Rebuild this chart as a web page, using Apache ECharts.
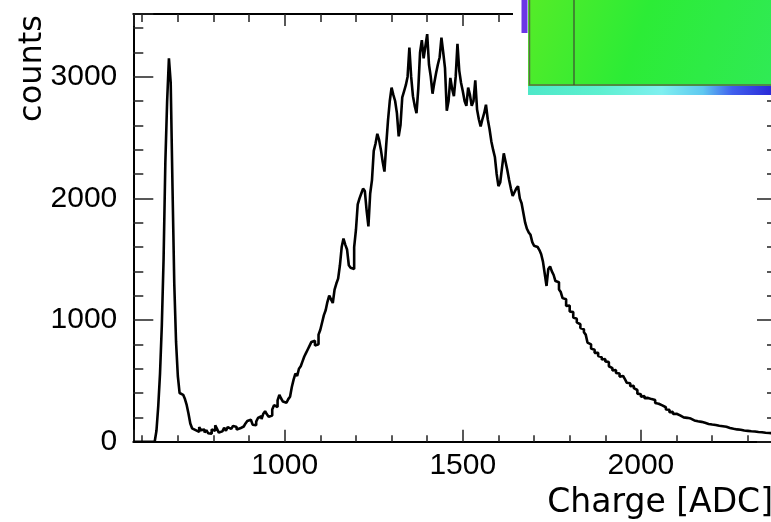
<!DOCTYPE html>
<html>
<head>
<meta charset="utf-8">
<script src="https://cdn.jsdelivr.net/npm/echarts@6/dist/echarts.min.js"></script>
<style>
html,body{margin:0;padding:0;background:#fff;}
#chart{width:771px;height:522px;}
</style>
</head>
<body>
<div id="chart"></div>
<script>
// ---- data (histogram, bin width 5 ADC starting at 575) ----
const binStart = 575;
const binWidth = 5;
// 575 .. 895
const countsPedestal = [0,0,0,0,0,0,0,0,0,0,0,0,
  10,90,290,560,950,1500,2300,2800,3150,2950,
  2100,1300,820,540,400,385,375,350,300,230,
  150,110,95,105,80,120,95,100,75,95,
  70,65,100,90,135,105,75,85,95,115,
  90,120,105,95,130,120,100,110,95,125,
  140,150,170];
// 900 .. 1395
const countsRise = [180,175,140,135,165,195,210,185,230,250,
  225,205,215,265,300,285,340,385,355,330,
  320,310,350,370,450,510,560,540,600,620,
  660,700,730,760,790,820,830,790,800,880,
  920,980,1040,1080,1150,1200,1170,1140,1250,1300,
  1340,1450,1600,1670,1620,1580,1450,1430,1420,1600,
  1740,1950,2000,2040,2080,2060,1900,1770,2040,2150,
  2390,2450,2530,2480,2400,2300,2220,2440,2640,2800,
  2910,2850,2800,2700,2510,2600,2830,2880,2930,3000,
  3240,3000,2840,2760,2700,2900,3200,3300,3150,3250];
// 1400 .. 1895
const countsPeak = [3350,3100,3000,2860,2950,3030,3100,3160,3320,3200,
  3070,2720,2800,2990,2900,2840,3000,3270,3050,2950,
  2880,2800,2760,2910,2850,2760,2800,2970,2730,2650,
  2590,2650,2700,2770,2650,2570,2470,2400,2340,2200,
  2100,2130,2250,2370,2300,2230,2150,2080,2020,2050,
  2080,2100,2000,1960,1880,1800,1750,1720,1700,1640,
  1610,1600,1590,1575,1540,1480,1380,1280,1420,1440,
  1400,1370,1320,1310,1250,1230,1180,1170,1115,1120,
  1070,1065,1020,1010,980,965,935,925,900,880,
  815,800,765,755,730,730,705,695,675,680];
// 1900 .. 2380
const countsTail = [660,655,620,605,585,590,565,560,535,540,
  525,515,485,480,455,460,440,425,395,390,
  370,375,358,360,345,350,338,342,318,312,
  300,298,285,283,265,262,242,245,228,230,
  215,216,202,200,193,196,188,190,176,175,
  166,168,162,163,153,155,143,146,138,141,
  135,137,128,131,124,127,121,123,116,113,
  104,106,99,101,96,98,91,92,87,89,
  84,86,82,84,81,80,77,78,73,74,
  70,72,68,69,66,67,65];
const xTickLabels = [1000, 1500, 2000];
const yTickLabels = [0, 1000, 2000, 3000];
const xTitle = 'Charge [ADC]';
const yTitle = 'counts';

// ---- build ----
const counts = countsPedestal.concat(countsRise, countsPeak, countsTail);
const histData = counts.map((c, i) => [binStart + i * binWidth, c]);
histData.push([binStart + counts.length * binWidth, counts[counts.length - 1]]);

const X_MIN = 575, X_MAX = 2382, Y_MIN = 0, Y_MAX = 3515;
const axisLineStyle = {color: '#000', width: 2};
const tickStyle = {color: '#222', width: 1.5};
const labelFont = {fontSize: 30, fontFamily: 'Liberation Sans', color: '#000'};
const titleFont = {fontSize: 33, fontFamily: 'DejaVu Sans', color: '#000'};

function xAxisCfg(pos, main) {
  return {
    type: 'value', position: pos, min: X_MIN, max: X_MAX,
    minInterval: 500, maxInterval: 500,
    axisLine: {show: true, onZero: false, lineStyle: axisLineStyle},
    axisTick: {show: true, inside: true, length: 12, lineStyle: tickStyle},
    minorTick: {show: true, splitNumber: 5, length: pos === 'top' ? 8 : 6.5, lineStyle: tickStyle},
    splitLine: {show: false}, minorSplitLine: {show: false},
    axisLabel: main ? Object.assign({show: true, margin: 9,
      formatter: v => xTickLabels.indexOf(v) >= 0 ? String(v) : ''}, labelFont) : {show: false},
    name: main ? xTitle : '',
    nameLocation: 'end', nameGap: -4, nameMoveOverlap: false,
    nameTextStyle: Object.assign({align: 'right', verticalAlign: 'top', padding: [45, 0, 0, 0]}, titleFont)
  };
}
function yAxisCfg(pos, main) {
  return {
    type: 'value', position: pos, min: Y_MIN, max: Y_MAX,
    minInterval: 1000, maxInterval: 1000,
    axisLine: {show: true, onZero: false, lineStyle: axisLineStyle},
    axisTick: {show: true, inside: true, length: 20, lineStyle: tickStyle},
    minorTick: {show: true, splitNumber: 5, length: 10, lineStyle: tickStyle},
    splitLine: {show: false}, minorSplitLine: {show: false},
    axisLabel: main ? Object.assign({show: true, margin: 16,
      formatter: v => yTickLabels.indexOf(v) >= 0 ? String(v) : ''}, labelFont) : {show: false},
    name: main ? yTitle : '',
    nameLocation: 'end', nameRotate: 90, nameGap: -1, nameMoveOverlap: false,
    nameTextStyle: Object.assign({align: 'right', verticalAlign: 'bottom', padding: [0, 0, 85, 0]},
      titleFont, {fontSize: 32})
  };
}

const chart = echarts.init(document.getElementById('chart'), null, {renderer: 'canvas'});
chart.setOption({
  animation: false,
  backgroundColor: '#fff',
  grid: {left: 133.3, top: 14, right: -6, bottom: 80.3, containLabel: false, outerBoundsMode: 'none'},
  xAxis: [xAxisCfg('bottom', true), xAxisCfg('top', false)],
  yAxis: [yAxisCfg('left', true), yAxisCfg('right', false)],
  series: [{
    type: 'line', step: 'end', data: histData, xAxisIndex: 0, yAxisIndex: 0,
    showSymbol: false, symbol: 'none', clip: true,
    lineStyle: {color: '#000', width: 2.6}, z: 3
  }],
  graphic: {elements: [
    {type: 'rect', z: 100, silent: true, shape: {x: 513, y: 0, width: 258, height: 97}, style: {fill: '#fff'}},
    {type: 'rect', z: 101, silent: true, shape: {x: 521.5, y: 0, width: 6, height: 33}, style: {fill: '#6b35e6'}},
    {type: 'rect', z: 101, silent: true, shape: {x: 528, y: 0, width: 243, height: 86},
      style: {fill: {type: 'linear', x: 0, y: 0, x2: 1, y2: 1, colorStops: [
        {offset: 0, color: '#55ec28'}, {offset: 0.45, color: '#2cec36'}, {offset: 1, color: '#30ea55'}]}}},
    {type: 'polyline', z: 102, silent: true, shape: {points: [[529.5, 0], [529.5, 85], [771, 85]]},
      style: {stroke: '#5b6b46', lineWidth: 1.5, fill: null}},
    {type: 'line', z: 102, silent: true, shape: {x1: 574, y1: 0, x2: 574, y2: 85},
      style: {stroke: '#3f4a35', lineWidth: 1.2}},
    {type: 'rect', z: 101, silent: true, shape: {x: 528, y: 86, width: 243, height: 9},
      style: {fill: {type: 'linear', x: 0, y: 0, x2: 1, y2: 0, colorStops: [
        {offset: 0, color: '#4ee8c8'}, {offset: 0.3, color: '#5ef0d0'}, {offset: 0.55, color: '#7ff0f0'},
        {offset: 0.72, color: '#5fc8f0'}, {offset: 0.84, color: '#4060ee'}, {offset: 1, color: '#2a2ad8'}]}}}
  ]}
});
</script>
</body>
</html>
